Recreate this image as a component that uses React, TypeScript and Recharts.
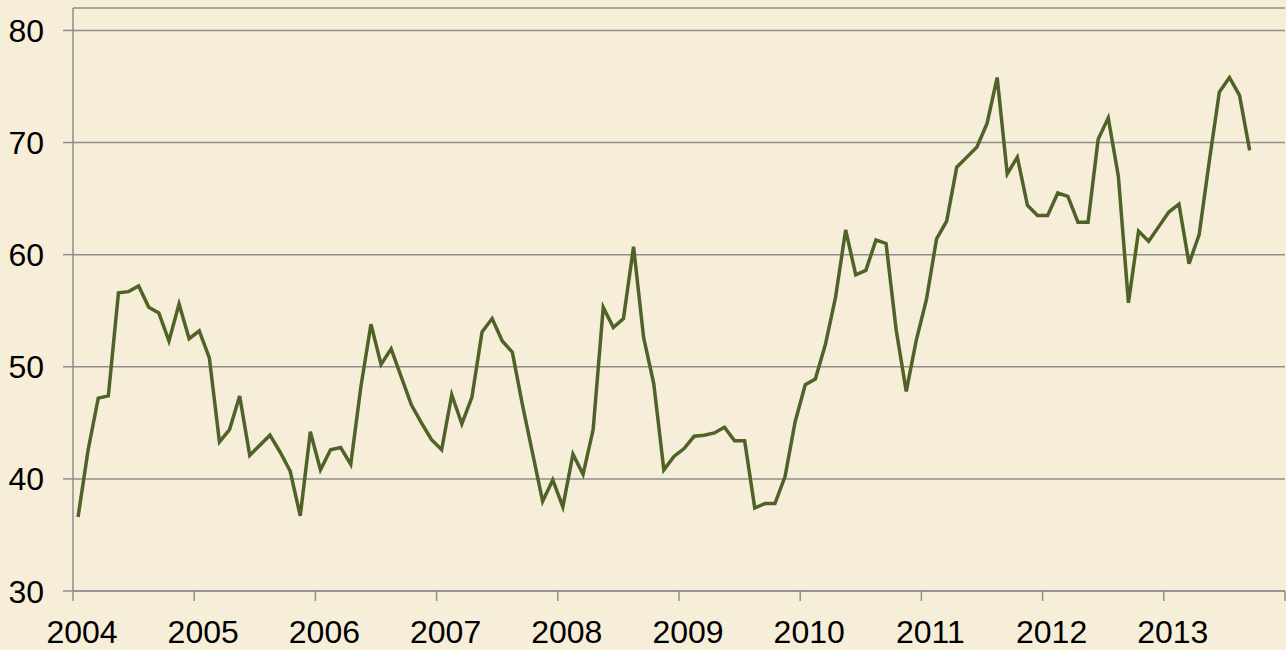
import { LineChart, Line, XAxis, YAxis, CartesianGrid } from "recharts";

// monthly values, Jan 2004 .. Sep 2013
const values = [
  36.6, 42.6, 47.2, 47.4, 56.6, 56.7, 57.2, 55.3, 54.8, 52.3, 55.6, 52.5,
  53.2, 50.8, 43.3, 44.4, 47.4, 42.1, 43.0, 43.9, 42.4, 40.7, 36.7, 44.2,
  40.8, 42.6, 42.8, 41.3, 48.2, 53.8, 50.2, 51.6, 49.1, 46.6, 45.0, 43.5,
  42.6, 47.5, 44.9, 47.3, 53.1, 54.3, 52.3, 51.3, 46.6, 42.3, 38.0, 39.9,
  37.5, 42.2, 40.4, 44.4, 55.3, 53.5, 54.3, 60.7, 52.6, 48.5, 40.8, 42.0,
  42.7, 43.8, 43.9, 44.1, 44.6, 43.4, 43.4, 37.4, 37.8, 37.8, 40.2, 45.1,
  48.4, 48.9, 52.0, 56.2, 62.2, 58.2, 58.6, 61.3, 61.0, 53.3, 47.8, 52.4,
  56.0, 61.4, 63.0, 67.8, 68.7, 69.6, 71.7, 75.8, 67.2, 68.7, 64.4, 63.5,
  63.5, 65.5, 65.2, 62.9, 62.9, 70.3, 72.2, 67.0, 55.7, 62.1, 61.2, 62.5,
  63.8, 64.5, 59.2, 61.8, 68.3, 74.5, 75.8, 74.2, 69.3,
];

const years = ["2004", "2005", "2006", "2007", "2008", "2009", "2010", "2011", "2012", "2013"];
const yTicks = [30, 40, 50, 60, 70, 80];

// point sits in the middle of its month
const data = values.map((v, i) => ({ t: i + 0.5, value: v }));
const xTicks = [...years.map((_, i) => i * 12), years.length * 12];

const FONT = "'Liberation Sans', Arial, sans-serif";
const GRID = "#8e8e8e";

const XTick = (props: any) => {
  const { x, y, payload } = props;
  const label = years[payload.value / 12];
  if (!label) return null;
  return (
    <text x={x + 9} y={y + 23} textAnchor="middle" fontSize={32} fontFamily={FONT} fill="#000">
      {label}
    </text>
  );
};

const YTick = (props: any) => {
  const { x, y, payload } = props;
  return (
    <text x={x} y={y + 11.5} textAnchor="end" fontSize={32} fontFamily={FONT} fill="#000">
      {payload.value}
    </text>
  );
};

export default function App() {
  return (
    <div style={{ width: 1286, height: 650, background: "#f6eed9" }}>
      <style>{"body{margin:0}"}</style>
      <LineChart
        width={1286}
        height={650}
        data={data}
        margin={{ top: 8, right: 1, bottom: 0, left: 0 }}
      >
        <CartesianGrid vertical={false} stroke={GRID} strokeWidth={1.5} />
        <XAxis
          type="number"
          dataKey="t"
          domain={[0, 120]}
          ticks={xTicks}
          interval={0}
          height={59}
          tickSize={10}
          tickMargin={19}
          stroke={GRID}
          strokeWidth={1.5}
          tick={<XTick />}
        />
        <YAxis
          domain={[30, 82]}
          ticks={yTicks}
          interval={0}
          width={73}
          tickSize={10}
          tickMargin={19}
          stroke={GRID}
          strokeWidth={1.5}
          tick={<YTick />}
        />
        <Line
          type="linear"
          dataKey="value"
          stroke="#4f6228"
          strokeWidth={3.5}
          dot={false}
          isAnimationActive={false}
        />
      </LineChart>
    </div>
  );
}
